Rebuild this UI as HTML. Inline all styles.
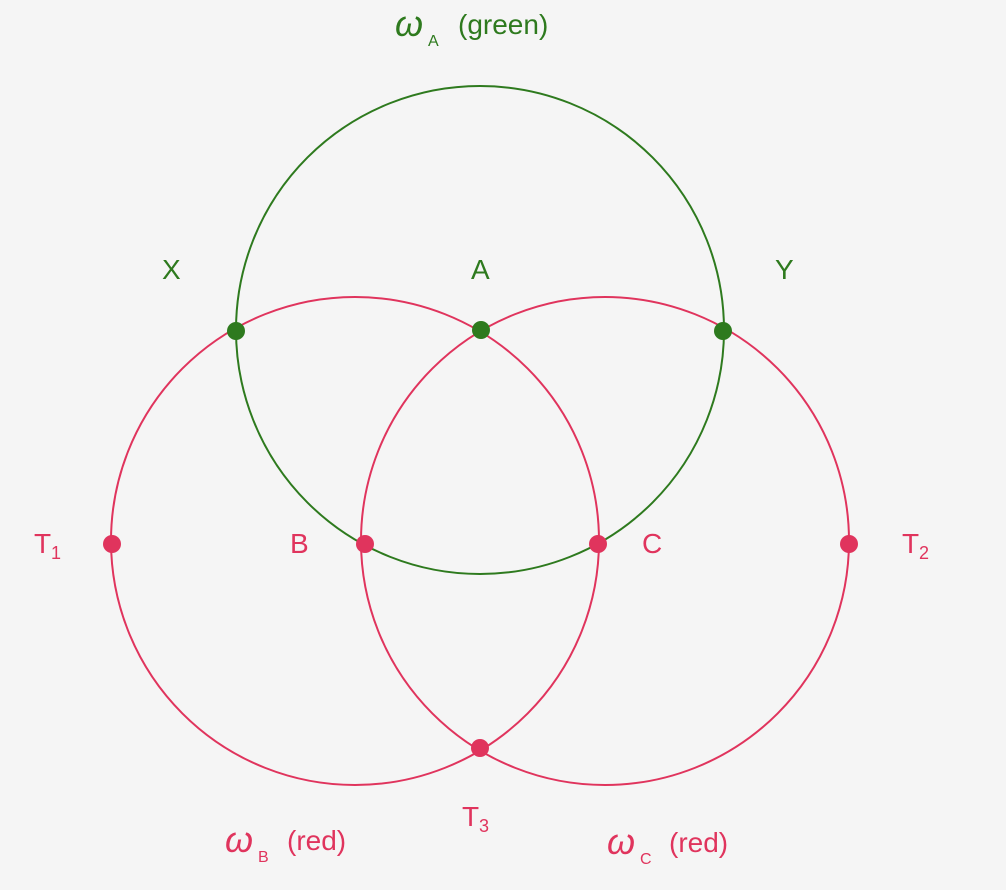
<!DOCTYPE html>
<html><head><meta charset="utf-8"><style>
html,body{margin:0;padding:0;background:#f5f5f5;}
svg{display:block;}
text{font-family:"Liberation Sans",sans-serif;}
</style></head><body>
<svg width="1006" height="890" viewBox="0 0 1006 890" xmlns="http://www.w3.org/2000/svg">
<rect width="1006" height="890" fill="#f5f5f5"/>
<g fill="none" stroke-width="2">
<circle cx="480" cy="330" r="244" stroke="#2e7a1e"/>
<circle cx="355" cy="541" r="244" stroke="#e0345d"/>
<circle cx="605" cy="541" r="244" stroke="#e0345d"/>
</g>
<g fill="#2e7a1e">
<circle cx="236" cy="331" r="9"/>
<circle cx="481" cy="330" r="9"/>
<circle cx="723" cy="331" r="9"/>
</g>
<g fill="#e0345d">
<circle cx="112" cy="544" r="9"/>
<circle cx="365" cy="544" r="9"/>
<circle cx="598" cy="544" r="9"/>
<circle cx="849" cy="544" r="9"/>
<circle cx="480" cy="748" r="9"/>
</g>
<g fill="#2e7a1e" font-size="28">
<text x="395" y="36" font-family="Liberation Serif,serif" font-style="italic" font-size="36">ω</text>
<text x="428" y="46" font-size="16">A</text>
<text x="458" y="34">(green)</text>
<text x="162" y="279">X</text>
<text x="471" y="279">A</text>
<text x="775" y="279">Y</text>
</g>
<g fill="#e0345d" font-size="28">
<text x="34" y="553">T</text><text x="51" y="559" font-size="18">1</text>
<text x="290" y="553">B</text>
<text x="642" y="553">C</text>
<text x="902" y="553">T</text><text x="919" y="559" font-size="18">2</text>
<text x="462" y="826">T</text><text x="479" y="832" font-size="18">3</text>
<text x="225" y="852" font-family="Liberation Serif,serif" font-style="italic" font-size="36">ω</text>
<text x="258" y="862" font-size="16">B</text>
<text x="287" y="850">(red)</text>
<text x="607" y="854" font-family="Liberation Serif,serif" font-style="italic" font-size="36">ω</text>
<text x="640" y="864" font-size="16">C</text>
<text x="669" y="852">(red)</text>
</g>
</svg>
</body></html>
